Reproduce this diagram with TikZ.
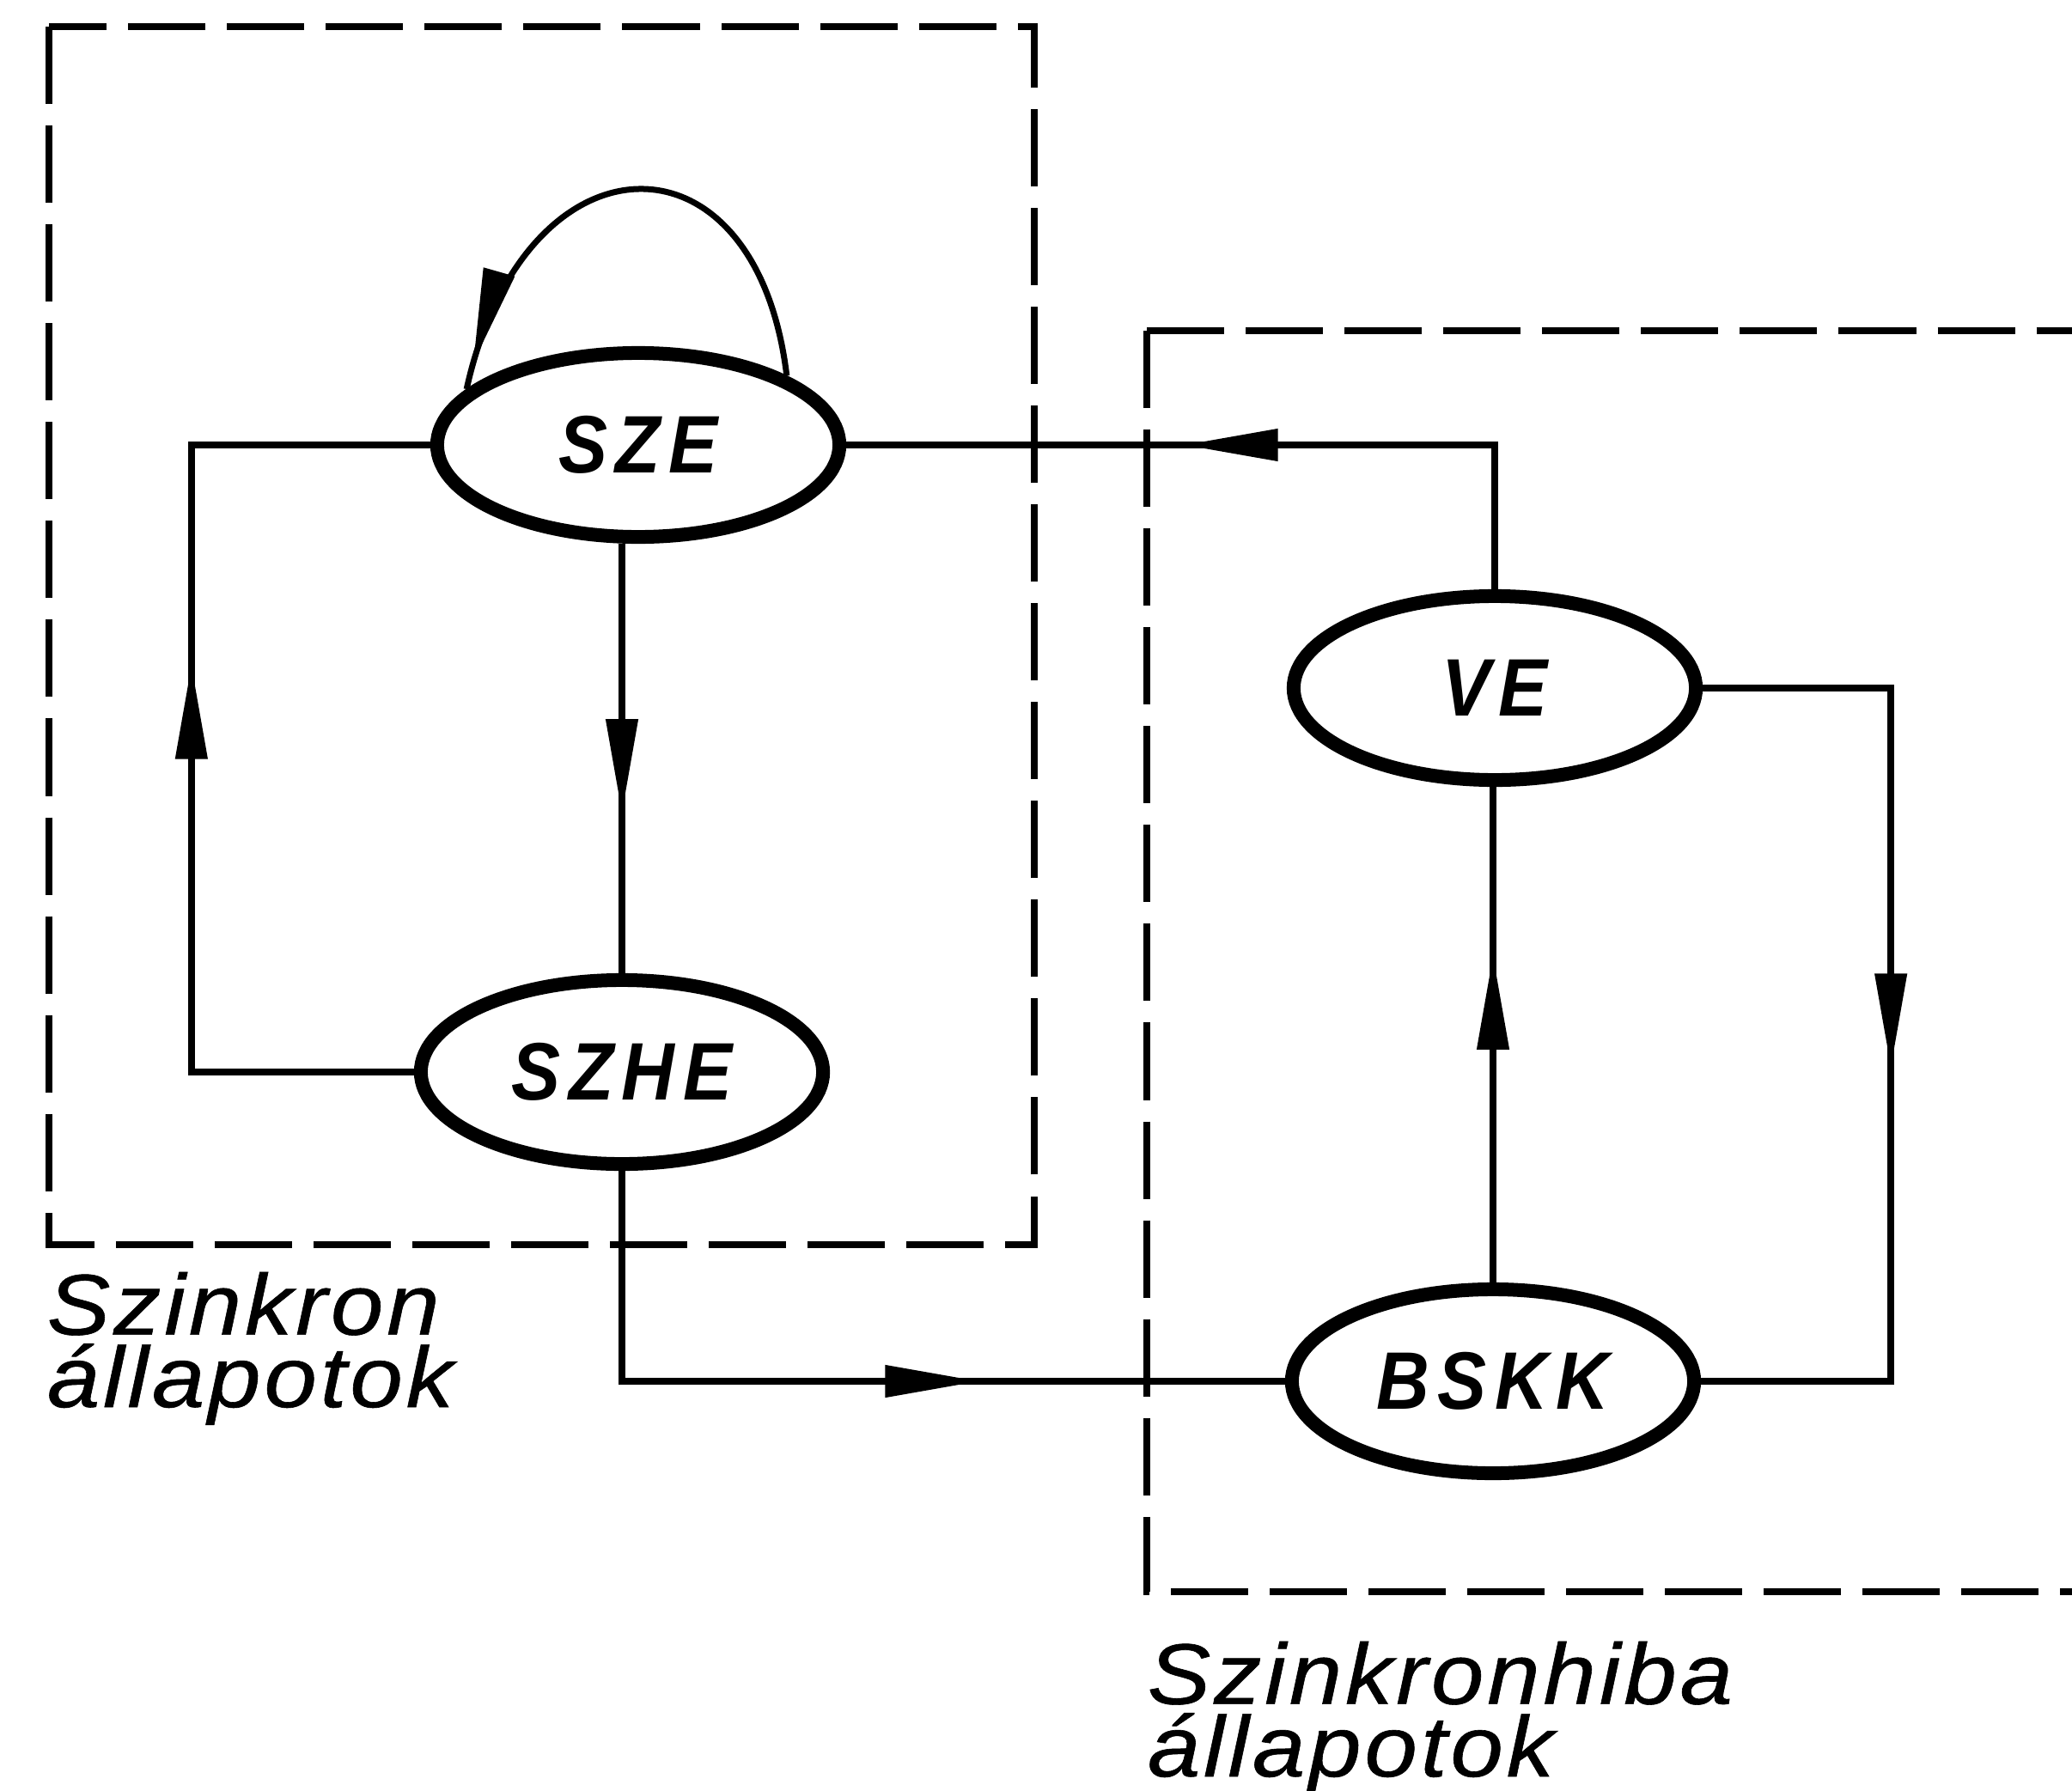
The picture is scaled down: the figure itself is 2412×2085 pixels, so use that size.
\documentclass[tikz,border=0pt]{standalone}
\usepackage{fontspec}
\setmainfont{Liberation Sans}
\newfontfamily\nodefont[FakeStretch=0.9, LetterSpace=10]{Liberation Sans}
\newfontfamily\labfont[FakeStretch=1.1, LetterSpace=4, FakeBold=0.6]{Liberation Sans}
\usetikzlibrary{arrows.meta,decorations.markings,shapes.geometric}
\begin{document}
\begin{tikzpicture}[x=0.01cm,y=-0.01cm,
  state/.style={ellipse, draw, line width=0.16cm, minimum width=4.68cm, minimum height=2.14cm, inner sep=0pt,
    font=\nodefont\fontsize{27}{30}\selectfont\bfseries\itshape},
  conn/.style={line width=0.075cm},
  frame/.style={line width=0.08cm, dash pattern=on 0.9cm off 0.25cm},
  region/.style={anchor=base west, inner sep=0pt, align=left,
    font=\labfont\fontsize{28.5}{24}\selectfont\itshape},
  midarrow/.style={postaction={decorate}, decoration={markings,
    mark=at position #1 with {\arrow{Triangle[length=1.1cm,width=0.36cm]}}}}
]
\useasboundingbox (0,0) rectangle (2412,2085);
\fill[white] (0,0) rectangle (2412,2085);

% frames
\draw[frame] (57,31) rectangle (1204,1449);
\draw[frame] (1335,385) -- (2412,385) (1335,385) -- (1335,1853) -- (2412,1853);

% states
\node[state] (SZE) at (743,518) {SZE};
\node[state] (SZHE) at (724,1248) {SZHE};
\node[state] (VE) at (1740,801) {VE};
\node[state] (BSKK) at (1738,1608) {BSKK};

% connectors
\draw[conn, midarrow=7.33cm] (SZHE.west) -- ++(-259,0) |- (SZE.west);
\draw[conn, midarrow=3.14cm] (SZHE.north |- SZE.south) -- (SZHE.north);
\draw[conn, midarrow=5.30cm] (VE.north) |- (SZE.east);
\draw[conn, midarrow=6.61cm] (VE.east) -- ++(219,0) |- (BSKK.east);
\draw[conn, midarrow=3.81cm] (BSKK.north) -- (BSKK.north |- VE.south);
\draw[conn, midarrow=6.61cm] (SZHE.south) |- (BSKK.west);
\draw[line width=0.07cm, midarrow=0.95] (SZE.25) .. controls (880,140) and (610,150) .. (SZE.162);

% labels (base anchor = baseline of the last line)
\node[region] (l1) at (54,1638) {Szinkron\\állapotok};
\node[region] (r1) at (1335,2068) {Szinkronhiba\\állapotok};
\end{tikzpicture}
\end{document}
